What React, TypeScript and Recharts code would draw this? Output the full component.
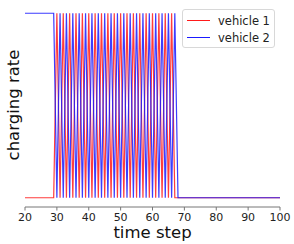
import { LineChart, Line, XAxis, YAxis } from "recharts"

const steps = [
  20, 21, 22, 23, 24, 25, 26, 27, 28, 29,
  30, 31, 32, 33, 34, 35, 36, 37, 38, 39,
  40, 41, 42, 43, 44, 45, 46, 47, 48, 49,
  50, 51, 52, 53, 54, 55, 56, 57, 58, 59,
  60, 61, 62, 63, 64, 65, 66, 67, 68, 69,
  70, 71, 72, 73, 74, 75, 76, 77, 78, 79,
  80, 81, 82, 83, 84, 85, 86, 87, 88, 89,
  90, 91, 92, 93, 94, 95, 96, 97, 98, 99,
  100,
]

// vehicle 1 (red)
const vehicle1 = [
  0, 0, 0, 0, 0, 0, 0, 0, 0, 0,
  1, 0, 1, 0, 1, 0, 1, 0, 1, 0,
  1, 0, 1, 0, 1, 0, 1, 0, 1, 0,
  1, 0, 1, 0, 1, 0, 1, 0, 1, 0,
  1, 0, 1, 0, 1, 0, 1, 0, 0, 0,
  0, 0, 0, 0, 0, 0, 0, 0, 0, 0,
  0, 0, 0, 0, 0, 0, 0, 0, 0, 0,
  0, 0, 0, 0, 0, 0, 0, 0, 0, 0,
  0,
]

// vehicle 2 (blue)
const vehicle2 = [
  1, 1, 1, 1, 1, 1, 1, 1, 1, 1,
  0, 1, 0, 1, 0, 1, 0, 1, 0, 1,
  0, 1, 0, 1, 0, 1, 0, 1, 0, 1,
  0, 1, 0, 1, 0, 1, 0, 1, 0, 1,
  0, 1, 0, 1, 0, 1, 0, 1, 0, 0,
  0, 0, 0, 0, 0, 0, 0, 0, 0, 0,
  0, 0, 0, 0, 0, 0, 0, 0, 0, 0,
  0, 0, 0, 0, 0, 0, 0, 0, 0, 0,
  0,
]

const xTicks = [20, 30, 40, 50, 60, 70, 80, 90, 100]
const seriesNames = ["vehicle 1", "vehicle 2"]

const data = steps.map((t, i) => ({ t, v1: vehicle1[i], v2: vehicle2[i] }))

const font = "DejaVu Sans, sans-serif"
const red = "#ff1a1a"
const blue = "#1a1aff"

function LegendBox() {
  const colors = [red, blue]
  return (
    <div
      style={{
        position: "absolute",
        left: 182,
        top: 9,
        width: 93,
        height: 39,
        border: "1px solid #d8d8d8",
        borderRadius: 3,
        background: "rgba(255,255,255,0.85)",
        padding: "2px 0 0 4px",
        fontFamily: font,
        fontSize: 11.5,
        color: "#222",
        boxSizing: "border-box",
      }}
    >
      {seriesNames.map((name, i) => (
        <div key={name} style={{ display: "flex", alignItems: "center", height: 17 }}>
          <span style={{ display: "inline-block", width: 23, height: 1.3, background: colors[i], marginRight: 8 }} />
          <span>{name}</span>
        </div>
      ))}
    </div>
  )
}

// rotated y axis title, drawn over the chart
function YTitle() {
  return (
    <svg width={24} height={244} style={{ position: "absolute", left: 0, top: 0 }}>
      <text
        x={13}
        y={105}
        transform="rotate(-90 13 105)"
        textAnchor="middle"
        dominantBaseline="central"
        fill="#111"
        fontSize={16.5}
        fontFamily={font}
      >
        charging rate
      </text>
    </svg>
  )
}

export default function App() {
  return (
    <div style={{ position: "fixed", left: 0, top: 0, width: 294, height: 244, background: "#fff" }}>
      <LineChart width={294} height={244} data={data} margin={{ top: 4, right: 14, bottom: 0, left: 25 }}>
        <XAxis
          dataKey="t"
          type="number"
          domain={[20, 100]}
          ticks={xTicks}
          stroke="#777"
          tickSize={3.5}
          tickMargin={2.5}
          tick={{ fill: "#222", fontSize: 11, fontFamily: font }}
          height={37}
          label={{ value: "time step", position: "insideBottom", offset: 6, fill: "#111", fontSize: 16.5, fontFamily: font }}
        />
        <YAxis type="number" domain={[-0.05, 1.05]} width={0} tick={false} tickLine={false} stroke="#777" />
        <Line type="linear" dataKey="v1" name={seriesNames[0]} stroke={red} strokeWidth={1.2} strokeOpacity={0.85} dot={false} isAnimationActive={false} />
        <Line type="linear" dataKey="v2" name={seriesNames[1]} stroke={blue} strokeWidth={1.2} strokeOpacity={0.85} dot={false} isAnimationActive={false} />
      </LineChart>
      <YTitle />
      <LegendBox />
    </div>
  )
}
